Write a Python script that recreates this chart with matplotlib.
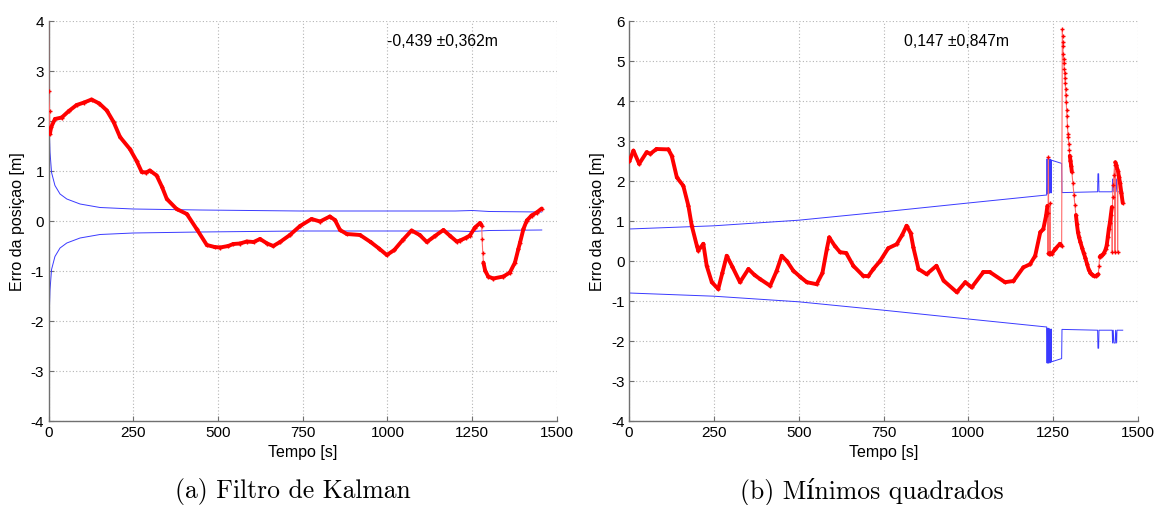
import numpy as np
import matplotlib
matplotlib.use("Agg")
import matplotlib.pyplot as plt
from matplotlib.collections import LineCollection

plt.rcParams["font.family"] = ["Liberation Sans", "DejaVu Sans"]
plt.rcParams["axes.unicode_minus"] = False

# (a) Filtro de Kalman: erro e limite de incerteza
kf_t = [0, 0.5, 3, 4, 8, 19, 39, 60, 83, 105, 127, 150, 172, 192, 211, 240, 260,
        275, 288, 299, 319, 335, 349, 378, 408, 437, 467, 490, 506, 530, 545, 565,
        585, 605, 624, 645, 663, 683, 712, 742, 776, 801, 830, 845, 860, 880, 919,
        950, 975, 998, 1020, 1045, 1071, 1095, 1116, 1140, 1165, 1185, 1204, 1214,
        1233, 1243, 1258, 1273, 1278, 1279, 1281, 1283, 1288, 1297, 1312, 1342,
        1361, 1376, 1386, 1391, 1401, 1411, 1425, 1440, 1455]
kf_err = [4.5, 2.6, 2.2, 1.74, 1.88, 2.04, 2.07, 2.2, 2.32, 2.37, 2.43, 2.35, 2.21,
          1.98, 1.68, 1.44, 1.2, 0.98, 0.97, 1.01, 0.91, 0.68, 0.44, 0.24, 0.14,
          -0.16, -0.48, -0.52, -0.53, -0.5, -0.46, -0.45, -0.41, -0.42, -0.36,
          -0.45, -0.5, -0.42, -0.28, -0.1, 0.04, -0.01, 0.09, 0.02, -0.18, -0.26,
          -0.28, -0.42, -0.55, -0.68, -0.58, -0.38, -0.19, -0.28, -0.42, -0.3,
          -0.18, -0.3, -0.41, -0.39, -0.33, -0.29, -0.13, -0.04, -0.09, -0.36,
          -0.63, -0.83, -0.99, -1.11, -1.15, -1.11, -1.03, -0.83, -0.56, -0.43,
          -0.16, 0.01, 0.11, 0.17, 0.25]
kf_sig_t = [0, 2, 4.4, 9, 19, 34, 54, 93, 152, 250, 447, 742, 1000, 1200, 1250,
            1300, 1455]
kf_sig = [2.6, 1.9, 1.38, 0.97, 0.71, 0.54, 0.44, 0.34, 0.27, 0.24, 0.22, 0.2,
          0.2, 0.2, 0.21, 0.19, 0.18]

# (b) Minimos quadrados
mq_t = [1, 13, 30, 52, 63, 81, 116, 126, 141, 160, 175, 185, 200, 204, 219, 229,
        244, 263, 275, 288, 305, 327, 352, 370, 386, 416, 435, 450, 465, 484, 505,
        524, 553, 570, 583, 590, 607, 622, 640, 661, 690, 705, 720, 740, 764, 789,
        805, 818, 830, 838, 853, 877, 906, 927, 966, 991, 1010, 1044, 1064, 1108,
        1133, 1162, 1182, 1197, 1212, 1221, 1229, 1233, 1234, 1235, 1236, 1237,
        1240, 1241, 1242, 1246, 1256, 1270, 1275, 1277, 1277.6, 1278.2, 1278.8,
        1279.5, 1280.5, 1281.5, 1282.5, 1283.5, 1284.5, 1285.5, 1286.5, 1287.5,
        1288.5, 1289.5, 1290.5, 1292, 1293.5, 1294.5, 1296, 1297.5, 1299, 1301,
        1303, 1305, 1308, 1311, 1314, 1317, 1320, 1323, 1326, 1330, 1335, 1340,
        1345, 1350, 1355, 1360, 1365, 1370, 1375, 1380, 1383, 1385, 1387, 1390,
        1395, 1400, 1405, 1408, 1411, 1414, 1417, 1420, 1423, 1424, 1425, 1427,
        1429, 1431, 1432, 1433, 1436, 1439, 1440, 1441, 1444, 1447, 1451, 1455]
mq_err = [2.49, 2.76, 2.43, 2.72, 2.68, 2.8, 2.79, 2.63, 2.09, 1.88, 1.38, 0.88,
          0.38, 0.26, 0.43, -0.12, -0.53, -0.7, -0.3, 0.13, -0.15, -0.53, -0.2,
          -0.35, -0.45, -0.62, -0.25, 0.13, 0.0, -0.24, -0.4, -0.53, -0.58, -0.3,
          0.3, 0.59, 0.37, 0.22, 0.2, -0.12, -0.37, -0.38, -0.2, 0.0, 0.32, 0.42,
          0.65, 0.88, 0.7, 0.34, -0.2, -0.33, -0.12, -0.49, -0.78, -0.53, -0.66,
          -0.28, -0.28, -0.53, -0.5, -0.16, -0.08, 0.13, 0.72, 0.8, 1.13, 1.38,
          0.2, 1.2, 2.6, 0.18, 0.2, 1.45, 0.18, 0.18, 0.3, 0.43, 0.38, 5.8, 5.62,
          5.47, 5.37, 5.18, 5.05, 4.95, 4.8, 4.7, 4.57, 4.45, 4.3, 4.15, 3.97,
          3.78, 3.63, 3.38, 3.18, 3.09, 2.93, 2.78, 2.63, 2.51, 2.38, 2.23, 1.95,
          1.65, 1.4, 1.15, 0.92, 0.72, 0.6, 0.48, 0.33, 0.2, 0.07, -0.08, -0.22,
          -0.3, -0.34, -0.37, -0.38, -0.35, -0.33, -0.12, 0.1, 0.13, 0.15, 0.2,
          0.3, 0.4, 0.6, 0.8, 0.95, 1.15, 1.35, 0.22, 1.6, 1.9, 2.15, 2.4, 0.22,
          2.47, 2.4, 2.3, 0.22, 2.25, 2.1, 1.95, 1.7, 1.45]
mq_sig_t = [0, 250, 500, 750, 1000, 1231, 1232, 1233, 1234, 1236, 1237, 1238,
            1240, 1241, 1243, 1244, 1245, 1275, 1276, 1381, 1382, 1384, 1385,
            1424, 1425, 1427, 1429, 1433, 1434, 1437, 1438, 1455]
mq_sig = [0.8, 0.88, 1.02, 1.23, 1.45, 1.65, 2.55, 1.68, 2.55, 2.55, 1.68, 2.55,
          1.7, 2.54, 2.54, 1.7, 2.52, 2.44, 1.71, 1.73, 2.18, 2.18, 1.73, 1.73,
          2.05, 1.73, 2.05, 2.05, 1.73, 2.05, 1.73, 1.73]

kf_text = "-0,439 \u00b10,362m"
mq_text = "0,147 \u00b10,847m"
captions = ["(a) Filtro de Kalman", "(b) Mínimos quadrados"]

RED = "#ff0000"
BLUE = "#3a3aff"
GRID = "#b4b4b4"
SPINE = "#707070"


def draw_error(ax, t, y):
    t = np.asarray(t, float)
    y = np.asarray(y, float)
    slope = np.abs(np.diff(y) / np.diff(t))
    pts = np.column_stack([t, y])
    segs = np.stack([pts[:-1], pts[1:]], axis=1)
    smooth = slope < 0.08
    ax.plot(t, y, color="#ff6a6a", lw=0.8, zorder=3)
    ax.add_collection(LineCollection(segs[smooth], colors=RED, linewidths=2.8,
                                     capstyle="round", joinstyle="round", zorder=4))
    ax.plot(t, y, ls="none", marker="+", ms=3.5, mew=1.0, color=RED, zorder=5)


def style_axes(ax, ylim, yticks):
    ax.set_xlim(0, 1500)
    ax.set_ylim(*ylim)
    ax.set_xticks([0, 250, 500, 750, 1000, 1250, 1500])
    ax.set_yticks(yticks)
    ax.grid(True, color=GRID, linestyle=(0, (1, 2)), linewidth=0.8)
    ax.set_axisbelow(True)
    for s in ["top", "right"]:
        ax.spines[s].set_visible(False)
    for s in ["left", "bottom"]:
        ax.spines[s].set_color(SPINE)
        ax.spines[s].set_linewidth(1.0)
    ax.tick_params(direction="in", length=3.5, width=0.8, color=SPINE,
                   labelsize=11, pad=3)
    ax.set_xlabel("Tempo [s]", fontsize=11.5)
    ax.set_ylabel("Erro da posiçao [m]", fontsize=11.5)
    ax.xaxis.set_label_coords(0.5, -0.058)
    ax.yaxis.set_label_coords(-0.047, 0.5)


fig = plt.figure(figsize=(11.59, 5.06), dpi=100)
ax1 = fig.add_axes([48.5 / 1159, 84 / 506, 508.5 / 1159, 400 / 506])
ax2 = fig.add_axes([629 / 1159, 84 / 506, 509 / 1159, 400 / 506])

# painel (a)
kf_sig_arr = np.asarray(kf_sig)
ax1.plot(kf_sig_t, kf_sig_arr, color=BLUE, lw=0.7, zorder=2)
ax1.plot(kf_sig_t, -kf_sig_arr, color=BLUE, lw=0.7, zorder=2)
draw_error(ax1, kf_t, kf_err)
style_axes(ax1, (-4, 4), range(-4, 5))
ax1.text(1000, 3.6, kf_text, fontsize=11.3, va="center")

# painel (b)
mq_sig_arr = np.asarray(mq_sig)
ax2.plot(mq_sig_t, mq_sig_arr, color=BLUE, lw=0.7, zorder=2)
ax2.plot(mq_sig_t, -mq_sig_arr, color=BLUE, lw=0.7, zorder=2)
draw_error(ax2, mq_t, mq_err)
style_axes(ax2, (-4, 6), range(-4, 7))
ax2.text(810, 5.5, mq_text, fontsize=11.3, va="center")

for xc, cap in zip([292.5, 872], captions):
    fig.text(xc / 1159, 1 - 492 / 506, cap, fontsize=18.5, ha="center",
             va="center", family=["cmr10", "DejaVu Serif"])

fig.savefig("out.png", dpi=100)
